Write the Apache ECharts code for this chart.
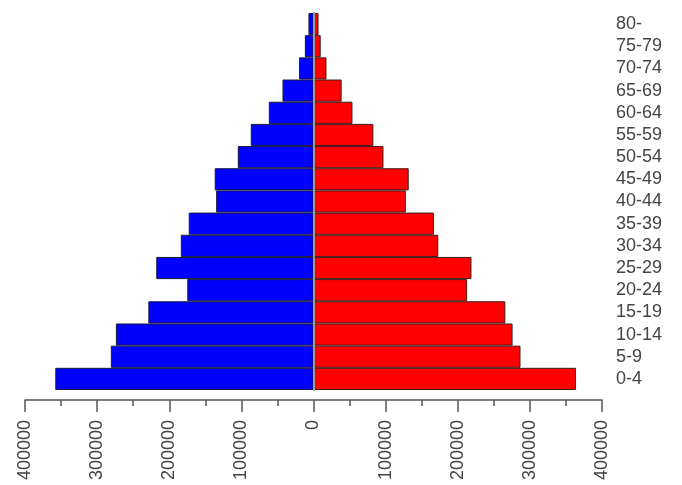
<!DOCTYPE html>
<html>
<head>
<meta charset="utf-8">
<script src="https://cdn.jsdelivr.net/npm/echarts@6/dist/echarts.min.js"></script>
<style>html,body{margin:0;padding:0;background:#fff;}#c{width:682px;height:485px;}</style>
</head>
<body>
<div id="c"></div>
<script>
var ageGroups = ['0-4','5-9','10-14','15-19','20-24','25-29','30-34','35-39','40-44','45-49','50-54','55-59','60-64','65-69','70-74','75-79','80-'];
var maleValues = [358000, 281000, 274000, 229000, 175000, 218000, 184000, 173000, 135000, 137000, 105000, 87000, 62000, 43000, 20000, 12000, 7000];
var femaleValues = [364000, 287000, 276000, 266000, 213000, 219000, 173000, 167000, 128000, 132000, 97000, 83000, 54000, 39000, 18000, 10000, 7000];
var xTicks = { min: -400000, max: 400000, step: 100000 };

var chart = echarts.init(document.getElementById('c'), null, { renderer: 'canvas' });
chart.setOption({
  animation: false,
  backgroundColor: '#ffffff',
  grid: { left: 25, right: 80, top: 13, bottom: 95, containLabel: false },
  xAxis: {
    type: 'value',
    min: xTicks.min, max: xTicks.max, interval: xTicks.step,
    offset: 10,
    axisLine: { show: true, onZero: false, lineStyle: { color: '#555', width: 1.5 } },
    axisTick: { show: true, length: 12, lineStyle: { color: '#555', width: 1.5 } },
    minorTick: { show: true, splitNumber: 2, length: 6, lineStyle: { color: '#555', width: 1.5 } },
    splitLine: { show: false },
    axisLabel: {
      rotate: 90, margin: 20, fontSize: 18, color: '#444', fontFamily: 'Liberation Sans, Arial, sans-serif',
      formatter: function (v) { return String(Math.abs(v)); }
    }
  },
  yAxis: [
    {
      type: 'category', data: ageGroups, z: 10,
      axisLine: { show: true, onZero: true, lineStyle: { color: '#9a9a9a', width: 2 } },
      axisTick: { show: false }, axisLabel: { show: false }, splitLine: { show: false }
    },
    {
      type: 'category', data: ageGroups, position: 'right',
      axisLine: { show: false }, axisTick: { show: false }, splitLine: { show: false },
      axisLabel: { show: true, interval: 0, margin: 14, fontSize: 18, color: '#444', align: 'left', fontFamily: 'Liberation Sans, Arial, sans-serif' }
    }
  ],
  series: [
    {
      name: 'Male', type: 'bar', yAxisIndex: 0,
      data: maleValues.map(function (v) { return -v; }),
      barCategoryGap: '0%', barGap: '-100%',
      itemStyle: { color: '#0000ff', borderColor: '#1a1a40', borderWidth: 1 }
    },
    {
      name: 'Female', type: 'bar', yAxisIndex: 0,
      data: femaleValues,
      barCategoryGap: '0%', barGap: '-100%',
      itemStyle: { color: '#ff0000', borderColor: '#401a1a', borderWidth: 1 }
    }
  ]
});
</script>
</body>
</html>
